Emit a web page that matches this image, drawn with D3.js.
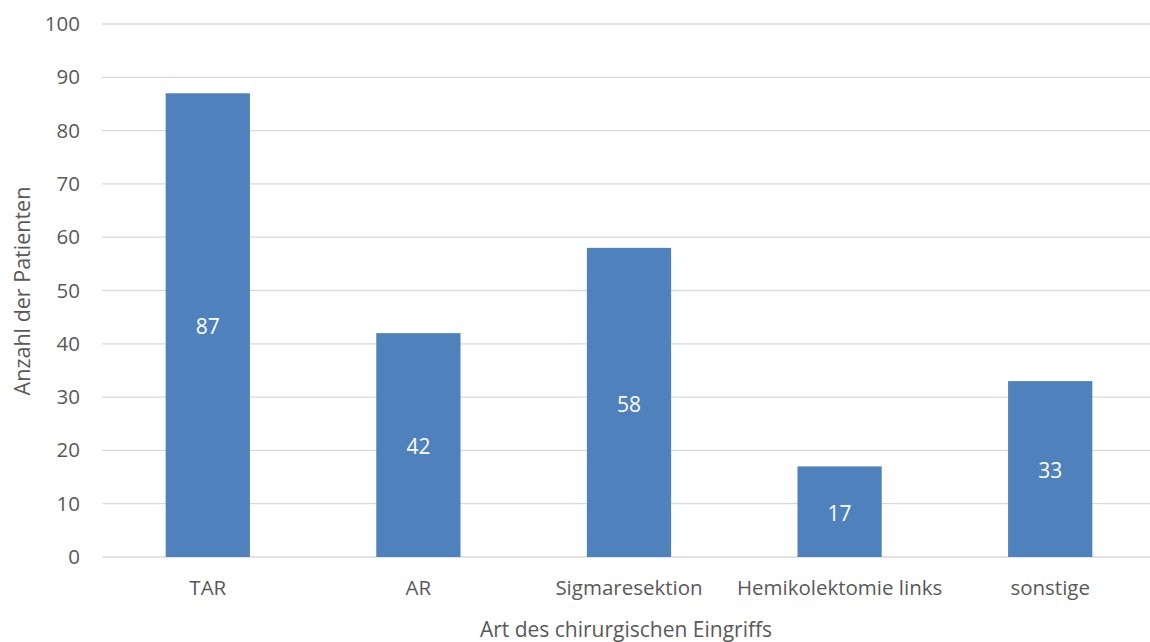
<!DOCTYPE html>
<html>
<head>
<meta charset="utf-8">
<script src="https://cdn.jsdelivr.net/npm/d3@7/dist/d3.min.js"></script>
<style>
  html, body { margin: 0; padding: 0; background: #fff; }
  svg { display: block; font-family: "Open Sans", "Noto Sans", sans-serif; }
</style>
</head>
<body>
<svg id="chart" width="1150" height="642"></svg>
<script>
// Number of patients by type of surgical procedure
const categories = ["TAR", "AR", "Sigmaresektion", "Hemikolektomie links", "sonstige"];
const values = [87, 42, 58, 17, 33];
const yTicks = [0, 10, 20, 30, 40, 50, 60, 70, 80, 90, 100];

(function () {
  const svg = d3.select("#chart");
  const W = 1150;
  const plotLeft = 102.5, plotRight = 1155.5, plotTop = 24, plotBottom = 557;

  const x = d3.scaleBand()
    .domain(categories)
    .range([plotLeft, plotRight])
    .paddingInner(0.6)
    .paddingOuter(0.3);

  const y = d3.scaleLinear().domain([0, 100]).range([plotBottom, plotTop]);

  // Horizontal gridlines
  svg.append("g")
    .selectAll("line")
    .data(yTicks)
    .join("line")
    .attr("x1", plotLeft)
    .attr("x2", W)
    .attr("y1", d => y(d))
    .attr("y2", d => y(d))
    .attr("stroke", "#d9d9d9")
    .attr("stroke-width", 1.3);

  // Y axis tick labels
  const yAxis = d3.axisLeft(y).tickValues(yTicks).tickSize(0).tickPadding(0);
  const gy = svg.append("g").attr("transform", "translate(80,0)").call(yAxis);
  gy.select(".domain").remove();
  gy.selectAll("text")
    .attr("fill", "#595959")
    .style("font-size", "20.5px")
    .style("font-family", "'Open Sans', sans-serif");

  // Bars
  svg.append("g")
    .selectAll("rect")
    .data(values)
    .join("rect")
    .attr("x", (d, i) => x(categories[i]))
    .attr("width", x.bandwidth())
    .attr("y", d => y(d))
    .attr("height", d => y(0) - y(d))
    .attr("fill", "#4f81bd");

  // Value labels centred inside bars
  svg.append("g")
    .selectAll("text")
    .data(values)
    .join("text")
    .attr("x", (d, i) => x(categories[i]) + x.bandwidth() / 2)
    .attr("y", d => (y(d) + y(0)) / 2 + 2)
    .attr("dy", "0.35em")
    .attr("text-anchor", "middle")
    .attr("fill", "#ffffff")
    .style("font-size", "21px")
    .text(d => d);

  // Category labels
  const xAxis = d3.axisBottom(x).tickSize(0).tickPadding(0);
  const gx = svg.append("g").attr("transform", `translate(0,${plotBottom})`).call(xAxis);
  gx.select(".domain").remove();
  gx.selectAll("text")
    .attr("fill", "#595959")
    .attr("y", 31)
    .attr("dy", "0.35em")
    .style("font-size", "20.5px")
    .style("font-family", "'Open Sans', sans-serif");

  // Axis titles
  svg.append("text")
    .attr("x", 626)
    .attr("y", 630)
    .attr("dy", "0.35em")
    .attr("text-anchor", "middle")
    .attr("fill", "#595959")
    .style("font-size", "21px")
    .text("Art des chirurgischen Eingriffs");

  svg.append("text")
    .attr("transform", "translate(22,291) rotate(-90)")
    .attr("text-anchor", "middle")
    .attr("dy", "0.35em")
    .attr("fill", "#595959")
    .style("font-size", "21.5px")
    .text("Anzahl der Patienten");
})();
</script>
</body>
</html>
